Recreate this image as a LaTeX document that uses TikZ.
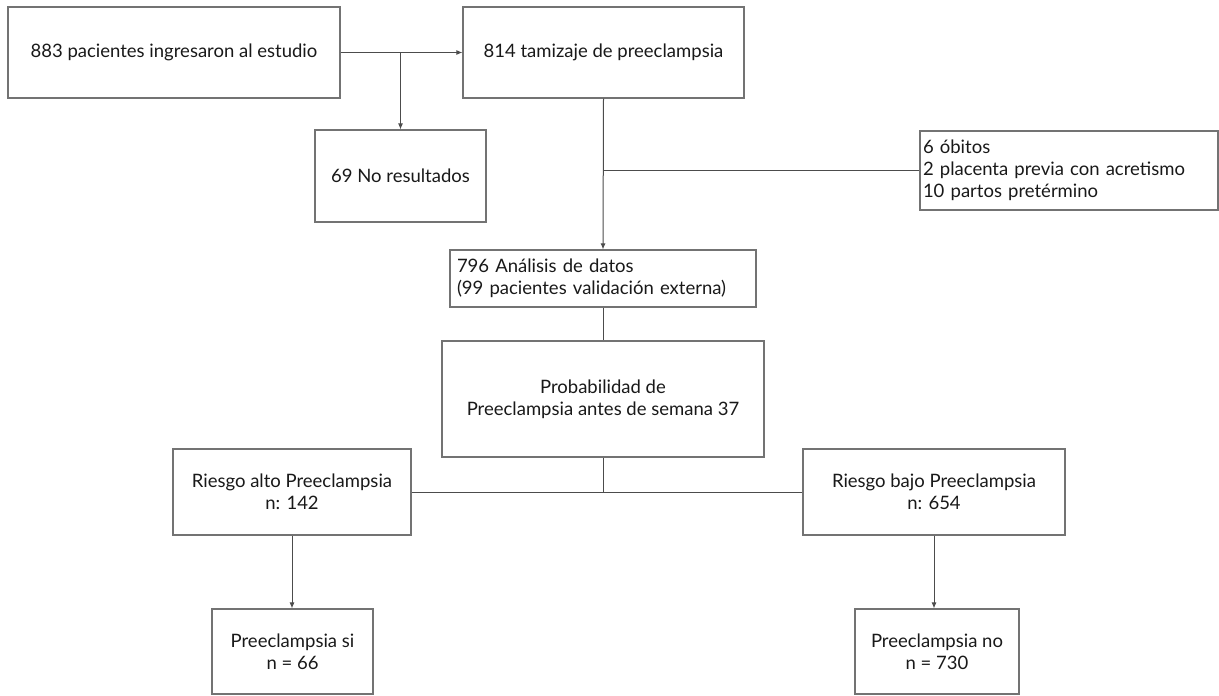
\documentclass[tikz,border=0pt]{standalone}
\usepackage{fontspec}
\setmainfont{Lato}
\usetikzlibrary{arrows.meta}

\begin{document}
            \begin{tikzpicture}[x=1pt,y=-1pt,
                    font=\fontsize{18.5}{22}\selectfont,
                    caja/.style={draw=black!55, line width=1.1pt, text=black!90,
                        align=center, inner sep=0pt},
                    lista/.style={caja, align=left, inner ysep=0pt},
                    linea/.style={draw=black!70, line width=1pt},
                    flecha/.style={linea, -{Latex[length=6pt,width=5pt]}}]
                \useasboundingbox (0,0) rectangle (1219,696);

                % cajas
                \node[caja, minimum width=332, minimum height=91] (ingreso) at (174,52.5) {883 pacientes ingresaron al estudio};
                \node[caja, minimum width=281, minimum height=91] (tamizaje) at (603.5,52.5) {814 tamizaje de preeclampsia};
                \node[caja, minimum width=171, minimum height=92] (noresult) at (400.5,176) {69 No resultados};
                \node[lista, text width=292, inner xsep=3, minimum height=79] (exclus) at (1069,170.5) {6 óbitos\\2 placenta previa con acretismo\\10 partos pretérmino};
                \node[lista, text width=292, inner xsep=7, minimum height=57] (analisis) at (603,278.5) {796 Análisis de datos\\(99 pacientes validación externa)};
                \node[caja, minimum width=322, minimum height=116] (probab) at (603,399) {Probabilidad de\\Preeclampsia antes de semana 37};
                \node[caja, minimum width=238, minimum height=86] (altorisk) at (292,492) {Riesgo alto Preeclampsia\\n: 142};
                \node[caja, minimum width=262, minimum height=86] (bajorisk) at (934,492) {Riesgo bajo Preeclampsia\\n: 654};
                \node[caja, minimum width=161, minimum height=85] (presi) at (292.5,651.5) {Preeclampsia si\\n = 66};
                \node[caja, minimum width=164, minimum height=85] (preno) at (937,651.5) {Preeclampsia no\\n = 730};

                % conectores
                \coordinate (j1) at (noresult.north |- ingreso.east);
                \coordinate (j2) at (tamizaje.south |- exclus.west);
                \coordinate (j3) at (probab.south |- altorisk.east);
                \draw[flecha] (ingreso.east) -- (tamizaje.west);
                \draw[flecha] (j1) -- (noresult.north);
                \draw[flecha] (tamizaje.south) -- (analisis.north);
                \draw[linea] (j2) -- (exclus.west);
                \draw[linea] (analisis.south) -- (probab.north);
                \draw[linea] (probab.south) -- (j3);
                \draw[linea] (altorisk.east) -- (bajorisk.west);
                \draw[flecha] (altorisk.south) -- (altorisk.south |- presi.north);
                \draw[flecha] (bajorisk.south) -- (bajorisk.south |- preno.north);
            \end{tikzpicture}
\end{document}
